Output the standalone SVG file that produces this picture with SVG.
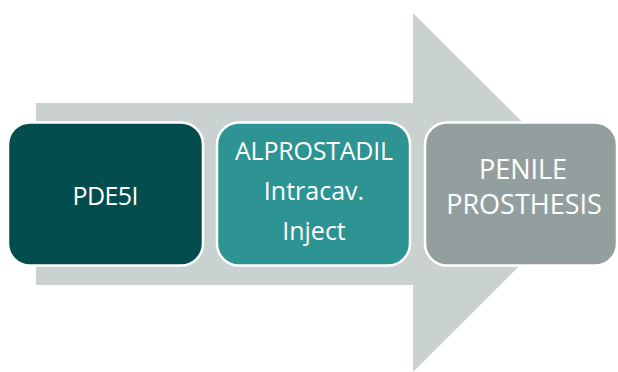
<svg xmlns="http://www.w3.org/2000/svg" width="618" height="372" viewBox="0 0 618 372">
<style>
.box{stroke:#ffffff;stroke-width:2.5}
.lbl{font-family:"Open Sans","Noto Sans","Liberation Sans",sans-serif;font-size:25px;fill:#ffffff;text-anchor:middle}
.big{font-size:27px}
</style>
<rect width="618" height="372" fill="#ffffff"/>
<g id="connectors">
<polygon points="36,103 413,103 413,13 593,192.5 413,372 413,285 36,285" fill="#c9d2d1"/>
</g>
<g id="node-pde5i">
<rect class="box" x="8" y="122.5" width="195" height="143" rx="22" fill="#034d4e"/>
<text class="lbl" x="105.5" y="205" textLength="66">PDE5I</text>
</g>
<g id="node-alprostadil">
<rect class="box" x="217" y="122.5" width="193" height="143" rx="22" fill="#2e9393"/>
<text class="lbl" x="314" y="160" textLength="158">ALPROSTADIL</text>
<text class="lbl" x="314" y="200">Intracav.</text>
<text class="lbl" x="314" y="240">Inject</text>
</g>
<g id="node-prosthesis">
<rect class="box" x="425" y="122.5" width="192" height="143" rx="22" fill="#939f9e"/>
<text class="lbl big" x="523" y="178.5">PENILE</text>
<text class="lbl big" x="524" y="213.5">PROSTHESIS</text>
</g>
</svg>
